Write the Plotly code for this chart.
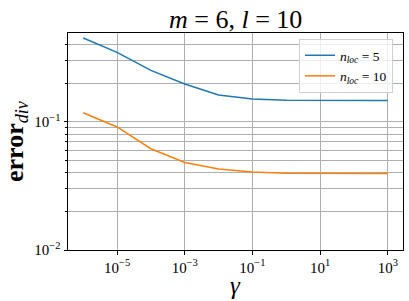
import plotly.graph_objects as go

# Data
gamma = [1e-6, 1e-5, 1e-4, 1e-3, 1e-2, 1e-1, 1e0, 1e1, 1e2, 1e3]
err_nloc5 = [0.453, 0.350, 0.253, 0.198, 0.1625, 0.151, 0.1475, 0.147, 0.147, 0.147]
err_nloc10 = [0.118, 0.0914, 0.0618, 0.0483, 0.043, 0.0407, 0.0397, 0.0395, 0.0395, 0.0395]

x_tickvals = [1e-5, 1e-3, 1e-1, 1e1, 1e3]
x_ticktext = ["10<sup>−5</sup>", "10<sup>−3</sup>", "10<sup>−1</sup>", "10<sup>1</sup>", "10<sup>3</sup>"]
y_tickvals = [1e-2, 1e-1]
y_ticktext = ["10<sup>−2</sup>", "10<sup>−1</sup>"]
y_minor = [0.02, 0.03, 0.04, 0.05, 0.06, 0.07, 0.08, 0.09, 0.2, 0.3, 0.4]

FONT = "Liberation Serif, Times New Roman, serif"
GRID = "#b0b0b0"

W, H = 409, 301
L, R, T, B = 68, 6, 33, 51
PW, PH = W - L - R, H - T - B


def px_x(p):
    return (p - L) / PW


def px_y(p):
    return 1 - (p - T) / PH


fig = go.Figure()
fig.add_trace(go.Scatter(x=gamma, y=err_nloc5, mode="lines",
                         line=dict(color="#1f77b4", width=1.5), legendgroup="g",
                         name="<i>n</i><sub><i>loc</i></sub> = 5"))
fig.add_trace(go.Scatter(x=gamma, y=err_nloc10, mode="lines",
                         line=dict(color="#ff7f0e", width=1.5), legendgroup="g",
                         name="<i>n</i><sub><i>loc</i></sub> = 10"))

fig.update_layout(
    width=W, height=H,
    margin=dict(l=L, r=R, t=T, b=B, autoexpand=False),
    paper_bgcolor="white", plot_bgcolor="white",
    font=dict(family=FONT, color="black", size=15),
    showlegend=True,
    legend=dict(x=px_x(393), y=px_y(39), xanchor="right", yanchor="top",
                bgcolor="rgba(255,255,255,0.8)", bordercolor="#d0d0d0", borderwidth=1,
                font=dict(family=FONT, size=13.5), itemwidth=30, tracegroupgap=0),
    annotations=[
        dict(text="<i>m</i> = 6, <i>l</i> = 10", x=0.5, xref="paper", y=px_y(19), yref="paper",
             showarrow=False, font=dict(family=FONT, size=26), xanchor="center", yanchor="middle"),
        dict(text="<i>γ</i>", x=0.5, xref="paper", y=px_y(285), yref="paper",
             showarrow=False, font=dict(family=FONT, size=25), xanchor="center", yanchor="middle"),
        dict(text="<b>error</b><sub><i>div</i></sub>", x=px_x(15.5), xref="paper", y=0.5, yref="paper",
             showarrow=False, textangle=-90, font=dict(family=FONT, size=26),
             xanchor="center", yanchor="middle"),
    ],
)

fig.update_xaxes(
    type="log", range=[-6.45, 3.45], automargin=False,
    tickmode="array", tickvals=x_tickvals, ticktext=x_ticktext,
    ticks="outside", ticklen=3.5, tickwidth=0.8, tickcolor="black",
    showline=True, linecolor="black", linewidth=1, mirror=True,
    showgrid=True, gridcolor=GRID, gridwidth=0.8,
    tickfont=dict(family=FONT, size=15),
)
fig.update_yaxes(
    type="log", range=[-2, -0.305], automargin=False,
    tickmode="array", tickvals=y_tickvals, ticktext=y_ticktext,
    ticks="outside", ticklen=3.5, tickwidth=0.8, tickcolor="black",
    showline=True, linecolor="black", linewidth=1, mirror=True,
    showgrid=True, gridcolor=GRID, gridwidth=0.8,
    minor=dict(tickmode="array", tickvals=y_minor, ticks="outside", ticklen=2,
               tickcolor="black", tickwidth=0.6, showgrid=True, gridcolor=GRID, gridwidth=0.8),
    tickfont=dict(family=FONT, size=15),
)

fig.write_html("out.html", config={"displayModeBar": False},
               post_script="document.body.style.margin='0';")
